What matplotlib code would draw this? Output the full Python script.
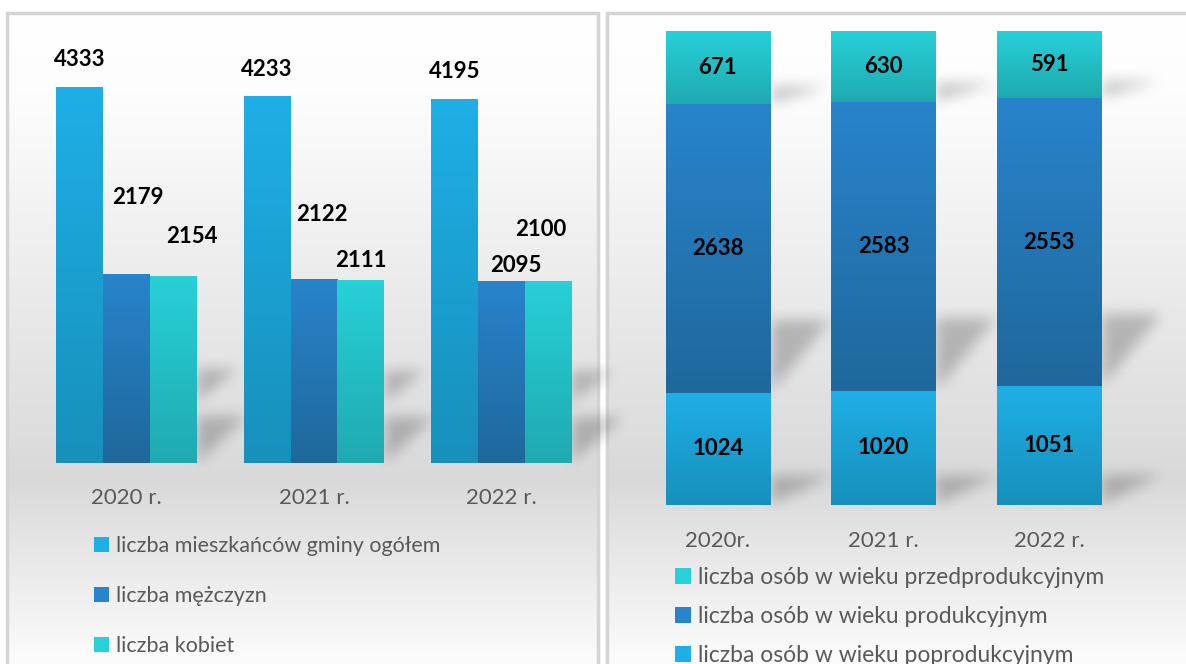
import numpy as np
import matplotlib
matplotlib.use("Agg")
import matplotlib.pyplot as plt
from matplotlib.colors import LinearSegmentedColormap
from matplotlib.patches import Rectangle

plt.rcParams['font.family'] = ['Lato', 'DejaVu Sans']

# left chart data
years_left = ["2020 r.", "2021 r.", "2022 r."]
ogolem = [4333, 4233, 4195]
mezczyzn = [2179, 2122, 2095]
kobiet = [2154, 2111, 2100]
left_names = ["liczba mieszkańców gminy ogółem", "liczba mężczyzn", "liczba kobiet"]

# right chart data
years_right = ["2020r.", "2021 r.", "2022 r."]
przed = [671, 630, 591]
prod = [2638, 2583, 2553]
poprod = [1024, 1020, 1051]
right_names = ["liczba osób w wieku przedprodukcyjnym",
               "liczba osób w wieku produkcyjnym",
               "liczba osób w wieku poprodukcyjnym"]

# label offsets (pixels) as placed by hand in the original
off_ogolem = [(0, 27), (0, 26), (0, 27)]
off_mez = [(11, 76), (8, 64), (14, 16)]
off_kob = [(18, 40), (0, 19), (-7, 51)]

c_light = ("#1fafe6", "#1790bb")
c_dark = ("#2884cb", "#1f689c")
c_teal = ("#28d0d8", "#1faab0")

W, H = 1186, 664
fig = plt.figure(figsize=(W / 100, H / 100), dpi=100)
fig.patch.set_facecolor("white")


def fx(px):
    return px / W


def fy(py):
    return 1 - py / H


def panel(x0, x1, y0, y1):
    bg = fig.add_axes([fx(x0), fy(y1), fx(x1 - x0), (y1 - y0) / H])
    bg.set_axis_off()
    bg.set_zorder(0)
    ys = np.linspace(0, 1, 256)
    cm = LinearSegmentedColormap.from_list(
        "bg", [(0, "#ffffff"), (0.12, "#fdfdfd"), (0.7, "#d9d9d9"),
               (0.85, "#ececec"), (1, "#ffffff")])
    bg.imshow(ys[:, None], aspect="auto", cmap=cm, extent=[0, 1, 0, 1],
              origin="upper", vmin=0, vmax=1)
    bg.add_patch(Rectangle((0, 0), 1, 1, transform=bg.transAxes, fill=False,
                           edgecolor="#d4d4d4", lw=2.5, clip_on=False))
    bg.set_xlim(0, 1)
    bg.set_ylim(0, 1)
    return bg


def grad_fill(ax, patch, cols):
    x, y = patch.get_x(), patch.get_y()
    w, h = patch.get_width(), patch.get_height()
    cm = LinearSegmentedColormap.from_list("g", [cols[0], cols[1]])
    g = np.linspace(0, 1, 100)[:, None]
    im = ax.imshow(g, aspect="auto", cmap=cm, extent=[x, x + w, y, y + h],
                   origin="upper", zorder=patch.get_zorder() + 0.1)
    im.set_clip_path(patch)


panel(7, 598, 13, 680)
panel(607, 1200, 13, 680)

# ---- left chart
axl = fig.add_axes([fx(33), fy(463), fx(562), 434 / H])
axl.set_zorder(3)
axl.set_xlim(-0.5, 2.5)
axl.set_ylim(0, 5000)
x = np.arange(3)
bw = 0.25
b1 = axl.bar(x - bw, ogolem, bw, color=c_light[0], label=left_names[0], zorder=2)
b2 = axl.bar(x, mezczyzn, bw, color=c_dark[0], label=left_names[1], zorder=2)
b3 = axl.bar(x + bw, kobiet, bw, color=c_teal[0], label=left_names[2], zorder=2)
for bars, cols in [(b1, c_light), (b2, c_dark), (b3, c_teal)]:
    for p in bars:
        grad_fill(axl, p, cols)
for bars, vals, offs in [(b1, ogolem, off_ogolem), (b2, mezczyzn, off_mez),
                         (b3, kobiet, off_kob)]:
    for p, v, o in zip(bars, vals, offs):
        axl.annotate(str(v), (p.get_x() + p.get_width() / 2, p.get_height()),
                     xytext=o, textcoords="offset pixels", ha="center",
                     va="center", fontsize=16, fontweight="bold",
                     color="black", zorder=5)
axl.set_xticks(x, years_left)
axl.tick_params(axis="x", length=0, pad=18, labelsize=16, labelcolor="#595959")
axl.set_yticks([])
for s in axl.spines.values():
    s.set_visible(False)
axl.patch.set_alpha(0)
axl.legend(loc="upper left", bbox_to_anchor=(fx(94), fy(536)),
           bbox_transform=fig.transFigure, frameon=False, fontsize=15.5,
           labelcolor="#595959", handlelength=0.7, handleheight=0.7,
           handletextpad=0.3, labelspacing=1.4, borderaxespad=0, borderpad=0)

# ---- right chart (100% stacked)
axr = fig.add_axes([fx(635), fy(505), fx(497), 474 / H])
axr.set_zorder(3)
axr.set_xlim(-0.5, 2.5)
axr.set_ylim(0, 100)
tot = np.array(przed) + np.array(prod) + np.array(poprod)
p_pop = np.array(poprod) / tot * 100
p_prod = np.array(prod) / tot * 100
p_przed = np.array(przed) / tot * 100
bw2 = 0.63
r1 = axr.bar(x, p_pop, bw2, color=c_light[0], label=right_names[2], zorder=2)
r2 = axr.bar(x, p_prod, bw2, bottom=p_pop, color=c_dark[0],
             label=right_names[1], zorder=2)
r3 = axr.bar(x, p_przed, bw2, bottom=p_pop + p_prod, color=c_teal[0],
             label=right_names[0], zorder=2)
for bars, cols in [(r1, c_light), (r2, c_dark), (r3, c_teal)]:
    for p in bars:
        grad_fill(axr, p, cols)
for bars, vals in [(r1, poprod), (r2, prod), (r3, przed)]:
    for p, v in zip(bars, vals):
        axr.text(p.get_x() + p.get_width() / 2, p.get_y() + p.get_height() / 2,
                 str(v), ha="center", va="center", fontsize=16,
                 fontweight="bold", color="black", zorder=5)
axr.set_xticks(x, years_right)
axr.tick_params(axis="x", length=0, pad=19, labelsize=16, labelcolor="#595959")
axr.set_yticks([])
for s in axr.spines.values():
    s.set_visible(False)
axr.patch.set_alpha(0)
h, l = axr.get_legend_handles_labels()
axr.legend(h[::-1], l[::-1], loc="upper left",
           bbox_to_anchor=(fx(675), fy(567)),
           bbox_transform=fig.transFigure, frameon=False, fontsize=16.5,
           labelcolor="#595959", handlelength=0.7, handleheight=0.7,
           handletextpad=0.3, labelspacing=0.78, borderaxespad=0, borderpad=0)

# ---- soft wedge shadows (display-pixel overlay between panel and bars)
mask = np.zeros((H, W))
yy, xx = np.mgrid[0:H, 0:W]


def wedge(xr, yb, hw, length):
    # triangle: bar edge (xr, yb..yb+hw), pointing right along the top edge
    t = (xx - xr) / length
    inside = (xx >= xr) & (t <= 1) & (yy <= yb + hw) & (yy >= yb + t * hw)
    mask[inside] = 1


def seg_px(ax, p):
    (x0, y0), (x1, y1) = ax.transData.transform(
        [(p.get_x(), p.get_y()), (p.get_x() + p.get_width(), p.get_y() + p.get_height())])
    return x1, y0, y1 - y0


for p in b3:
    xr, yb, hp = seg_px(axl, p)
    wedge(xr, yb, 0.25 * hp, 50)
    wedge(xr, yb + 0.33 * hp, 0.17 * hp, 40)
for bars in (r1, r2, r3):
    for p in bars:
        xr, yb, hp = seg_px(axr, p)
        wedge(xr, yb, 0.25 * hp, 60)


def box_blur(a, r):
    for axis in (0, 1):
        c = np.cumsum(np.pad(a, [(r + 1, r) if i == axis else (0, 0) for i in range(2)]), axis=axis)
        n = a.shape[axis]
        a = (np.take(c, np.arange(2 * r + 1, 2 * r + 1 + n), axis=axis)
             - np.take(c, np.arange(0, n), axis=axis)) / (2 * r + 1)
    return a


mask = box_blur(box_blur(box_blur(mask, 6), 6), 6)
rgba = np.zeros((H, W, 4))
rgba[..., 3] = mask * 0.22
sh = fig.add_axes([0, 0, 1, 1])
sh.set_zorder(1)
sh.set_axis_off()
sh.imshow(rgba, origin="lower", extent=[0, W, 0, H], aspect="auto")

fig.savefig("out.png", dpi=100)
